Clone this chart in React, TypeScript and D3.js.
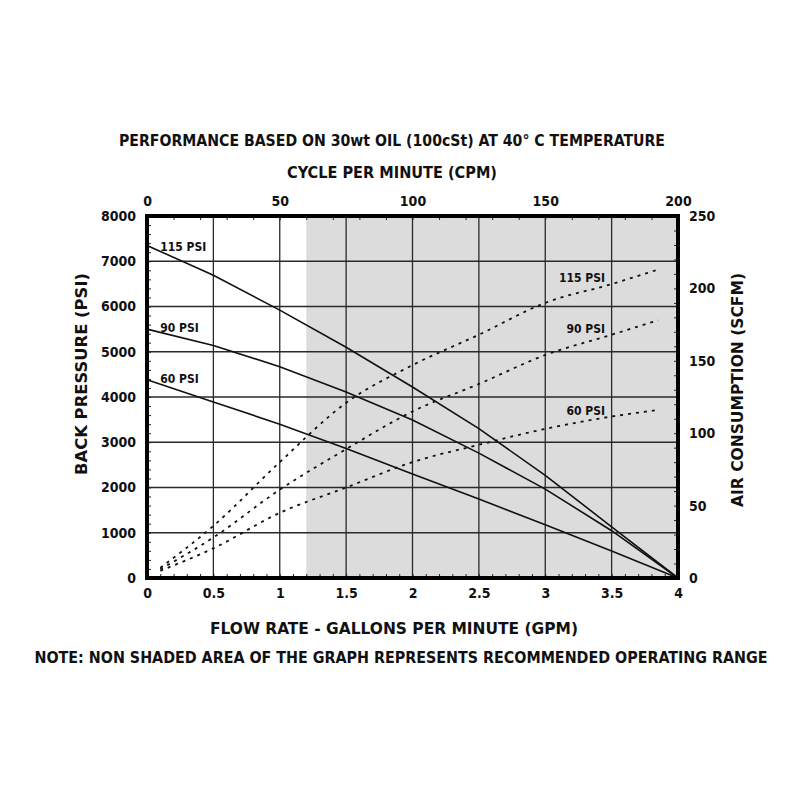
import * as d3 from 'd3';
import { useEffect, useRef } from "react";

// flow rate (GPM) sample points
const flowSolid = [0, 0.5, 1.0, 1.5, 2.0, 2.5, 3.0, 3.5, 4.0];
const flowAir = [0.1, 0.5, 1.0, 1.5, 2.0, 2.5, 3.0, 3.5, 3.85];

// back pressure (PSI), solid curves
const bp115 = [7350, 6690, 5920, 5100, 4220, 3300, 2270, 1130, 0];
const bp90 = [5500, 5140, 4670, 4110, 3490, 2760, 1965, 1045, 0];
const bp60 = [4380, 3890, 3400, 2860, 2300, 1744, 1177, 596, 0];

// air consumption (SCFM), dotted curves
const air115 = [7, 36, 80, 121, 147, 168, 190, 203, 213];
const air90 = [6, 28, 61, 89, 115, 134, 154, 168, 178];
const air60 = [5, 20.5, 45, 62.5, 80, 92, 103, 111.5, 116];

const seriesNames = ['115 PSI', '90 PSI', '60 PSI'];

const flowTicks = [0, 0.5, 1, 1.5, 2, 2.5, 3, 3.5, 4];
const cpmTicks = [0, 50, 100, 150, 200];
const psiTicks = [0, 1000, 2000, 3000, 4000, 5000, 6000, 7000, 8000];
const scfmTicks = [0, 50, 100, 150, 200, 250];

const SHADE_FROM = 1.2; // GPM, start of shaded area

const WIDTH = 800;
const HEIGHT = 800;
const LEFT = 147;
const RIGHT = 678;
const TOP = 216;
const BOTTOM = 578;
const FONT = "'DejaVu Sans Condensed', 'Liberation Sans Narrow', 'Open Sans', sans-serif";

export default function App() {
    const ref = useRef(null);
    useEffect(() => {
        if (!ref.current) return;

        const svg = d3.select(ref.current);
        svg.selectAll("*").remove();

        const x = d3.scaleLinear().domain([0, 4]).range([LEFT, RIGHT]);
        const xTop = d3.scaleLinear().domain([0, 200]).range([LEFT, RIGHT]);
        const y = d3.scaleLinear().domain([0, 8000]).range([BOTTOM, TOP]);
        const yR = d3.scaleLinear().domain([0, 250]).range([BOTTOM, TOP]);

        svg.append('rect')
            .attr('width', WIDTH).attr('height', HEIGHT).attr('fill', 'white');

        // shaded (not recommended) area
        svg.append('rect')
            .attr('x', x(SHADE_FROM))
            .attr('y', y(8000))
            .attr('width', x(4) - x(SHADE_FROM))
            .attr('height', y(0) - y(8000))
            .attr('fill', '#dcdcdc');

        // grid
        const grid = svg.append('g').attr('stroke', '#2a2a2a').attr('stroke-width', 1.3);
        grid.selectAll('.vg')
            .data(flowTicks.slice(1, -1))
            .enter()
            .append('line')
            .attr('x1', d => x(d)).attr('x2', d => x(d))
            .attr('y1', y(0)).attr('y2', y(8000));
        grid.selectAll('.hg')
            .data(psiTicks.slice(1, -1))
            .enter()
            .append('line')
            .attr('x1', x(0)).attr('x2', x(4))
            .attr('y1', d => y(d)).attr('y2', d => y(d));

        // minor ticks inside the frame
        const minor = (g: d3.Selection<SVGGElement, unknown, null, undefined>) => {
            g.select('.domain').remove();
            g.selectAll('line').attr('stroke', '#222').attr('stroke-width', 1);
        };
        svg.append('g')
            .attr('transform', `translate(0,${BOTTOM})`)
            .call(d3.axisTop(x).tickValues(d3.range(0, 41).map(i => i / 10)).tickSize(4).tickFormat(() => ''))
            .call(minor);
        svg.append('g')
            .attr('transform', `translate(0,${TOP})`)
            .call(d3.axisBottom(xTop).tickValues(d3.range(0, 201, 10)).tickSize(4).tickFormat(() => ''))
            .call(minor);
        svg.append('g')
            .attr('transform', `translate(${LEFT},0)`)
            .call(d3.axisRight(y).tickValues(d3.range(0, 8001, 200)).tickSize(4).tickFormat(() => ''))
            .call(minor);
        svg.append('g')
            .attr('transform', `translate(${RIGHT},0)`)
            .call(d3.axisLeft(yR).tickValues(d3.range(0, 251, 10)).tickSize(4).tickFormat(() => ''))
            .call(minor);

        // tick labels
        const labels = (g: d3.Selection<SVGGElement, unknown, null, undefined>) => {
            g.select('.domain').remove();
            g.selectAll('line').remove();
            g.selectAll('text')
                .attr('font-family', FONT)
                .attr('font-weight', 'bold')
                .attr('font-size', 14)
                .attr('fill', '#111');
        };
        svg.append('g')
            .attr('transform', `translate(0,${BOTTOM})`)
            .call(d3.axisBottom(x).tickValues(flowTicks).tickSize(0).tickPadding(10).tickFormat(d => String(d)))
            .call(labels);
        svg.append('g')
            .attr('transform', `translate(0,${TOP})`)
            .call(d3.axisTop(xTop).tickValues(cpmTicks).tickSize(0).tickPadding(10).tickFormat(d => String(d)))
            .call(labels);
        svg.append('g')
            .attr('transform', `translate(${LEFT},0)`)
            .call(d3.axisLeft(y).tickValues(psiTicks).tickSize(0).tickPadding(11).tickFormat(d => String(d)))
            .call(labels);
        svg.append('g')
            .attr('transform', `translate(${RIGHT},0)`)
            .call(d3.axisRight(yR).tickValues(scfmTicks).tickSize(0).tickPadding(11).tickFormat(d => String(d)))
            .call(labels);

        // back pressure curves
        const bpLine = d3.line<number>()
            .x((_, i) => x(flowSolid[i]))
            .y(d => y(d));
        const bpSeries = [bp115, bp90, bp60];
        svg.selectAll('.bp')
            .data(bpSeries)
            .enter()
            .append('path')
            .attr('d', d => bpLine(d))
            .attr('fill', 'none')
            .attr('stroke', '#111')
            .attr('stroke-width', 1.6);

        // air consumption curves
        const airLine = d3.line<number>()
            .x((_, i) => x(flowAir[i]))
            .y(d => yR(d))
            .curve(d3.curveMonotoneX);
        const airSeries = [air115, air90, air60];
        svg.selectAll('.air')
            .data(airSeries)
            .enter()
            .append('path')
            .attr('d', d => airLine(d))
            .attr('fill', 'none')
            .attr('stroke', '#111')
            .attr('stroke-width', 1.8)
            .attr('stroke-dasharray', '3,5');

        // frame
        svg.append('rect')
            .attr('x', LEFT).attr('y', TOP)
            .attr('width', RIGHT - LEFT).attr('height', BOTTOM - TOP)
            .attr('fill', 'none')
            .attr('stroke', '#000')
            .attr('stroke-width', 4);

        const text = (tx: number, ty: number, str: string, size: number, anchor = 'middle', len?: number) => {
            const t = svg.append('text')
                .attr('x', tx).attr('y', ty)
                .attr('text-anchor', anchor)
                .attr('dy', '0.35em')
                .attr('font-family', FONT)
                .attr('font-weight', 'bold')
                .attr('font-size', size)
                .attr('fill', '#111')
                .text(str);
            if (len) t.attr('textLength', len).attr('lengthAdjust', 'spacingAndGlyphs');
            return t;
        };

        // series labels
        bpSeries.forEach((s, i) => text(x(0.1), y(s[0]) + (i === 0 ? 1 : -1), seriesNames[i], 12, 'start'));
        airSeries.forEach((s, i) => text(x(3.45), yR(s[7]) - 6, seriesNames[i], 12, 'end'));

        // titles
        text(392, 140, 'PERFORMANCE BASED ON 30wt OIL (100cSt) AT 40° C TEMPERATURE', 16, 'middle', 546);
        text(392, 172, 'CYCLE PER MINUTE (CPM)', 16, 'middle', 210);
        text(394, 628, 'FLOW RATE - GALLONS PER MINUTE (GPM)', 16, 'middle', 368);
        text(401, 657, 'NOTE: NON SHADED AREA OF THE GRAPH REPRESENTS RECOMMENDED OPERATING RANGE', 16, 'middle', 733);
        text(81, 374, 'BACK PRESSURE  (PSI)', 16, 'middle', 202)
            .attr('transform', 'rotate(-90 81 374)');
        text(737, 390, 'AIR CONSUMPTION  (SCFM)', 16, 'middle', 234)
            .attr('transform', 'rotate(-90 737 390)');
    }, []);

    return (
        <svg ref={ref} width={WIDTH} height={HEIGHT}
            style={{ position: 'absolute', left: 0, top: 0, display: 'block' }}></svg>
    );
}
